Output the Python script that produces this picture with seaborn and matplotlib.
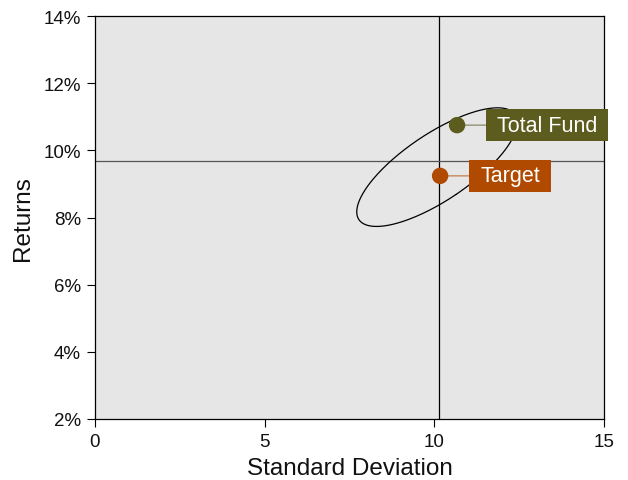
import numpy as np
import pandas as pd
import matplotlib
matplotlib.use("Agg")
import matplotlib.pyplot as plt
import seaborn as sns
from matplotlib.ticker import FuncFormatter

# Data
names = ["Total Fund", "Target"]
std_dev = [10.67, 10.17]
returns = [10.75, 9.24]
colors = ["#5C5C1E", "#B04A00"]

ref_x = 10.14   # vertical reference line (std dev)
ref_y = 9.68    # horizontal reference line (return %)

ellipse_center = (10.08, 9.50)
ellipse_cov = [[5.6, 3.15], [3.15, 3.12]]

x_ticks = [0, 5, 10, 15]
y_ticks = [2, 4, 6, 8, 10, 12, 14]

sns.set_theme(style="white")
plt.rcParams['font.family'] = ['Liberation Sans', 'DejaVu Sans']

fig = plt.figure(figsize=(6.28, 4.81), dpi=100)
ax = fig.add_axes([95/628, 1-420/481, (604-95)/628, (420-17)/481])
ax.set_facecolor("#E6E6E6")

df = pd.DataFrame({"name": names, "sd": std_dev, "ret": returns})

# reference lines
ax.axvline(ref_x, color="black", lw=0.9, zorder=1)
ax.axhline(ref_y, color="#555555", lw=0.9, zorder=1)

# ellipse from covariance
cov = np.array(ellipse_cov)
vals, vecs = np.linalg.eigh(cov)
t = np.linspace(0, 2*np.pi, 300)
circ = np.vstack([np.cos(t), np.sin(t)])
pts = vecs @ (np.sqrt(vals)[:, None] * circ)
ax.plot(ellipse_center[0] + pts[0], ellipse_center[1] + pts[1], color="black", lw=0.9, zorder=2)

sns.scatterplot(data=df, x="sd", y="ret", hue="name", palette=colors, s=140,
                edgecolor="none", legend=False, ax=ax, zorder=4)

offsets = [(40, 0), (40, 0)]
for n, x, y, c, off in zip(names, std_dev, returns, colors, offsets):
    ax.annotate(n, xy=(x, y), xytext=off, textcoords="offset pixels",
                ha="left", va="center", color="white", fontsize=15.5,
                bbox=dict(boxstyle="square,pad=0.51", fc=c, ec="none",
                          mutation_aspect=0.5),
                arrowprops=dict(arrowstyle="-", color=c, lw=1.0, alpha=0.6,
                                shrinkA=0, shrinkB=0), zorder=5)

ax.set_xlim(0, 15)
ax.set_ylim(2, 14)
ax.set_xticks(x_ticks)
ax.set_yticks(y_ticks)
ax.yaxis.set_major_formatter(FuncFormatter(lambda v, p: f"{v:.0f}%"))
ax.tick_params(axis="both", which="major", direction="out", length=6, width=0.8,
               color="black", labelsize=13.5, labelcolor="#111111", bottom=True, left=True, pad=4)
for s in ax.spines.values():
    s.set_color("black")
    s.set_linewidth(0.9)
ax.set_xlabel("Standard Deviation", fontsize=17.5, color="#111111", labelpad=5)
ax.set_ylabel("Returns", fontsize=17.5, color="#111111", labelpad=7)
ax.grid(False)

fig.savefig("out.png", dpi=100)
